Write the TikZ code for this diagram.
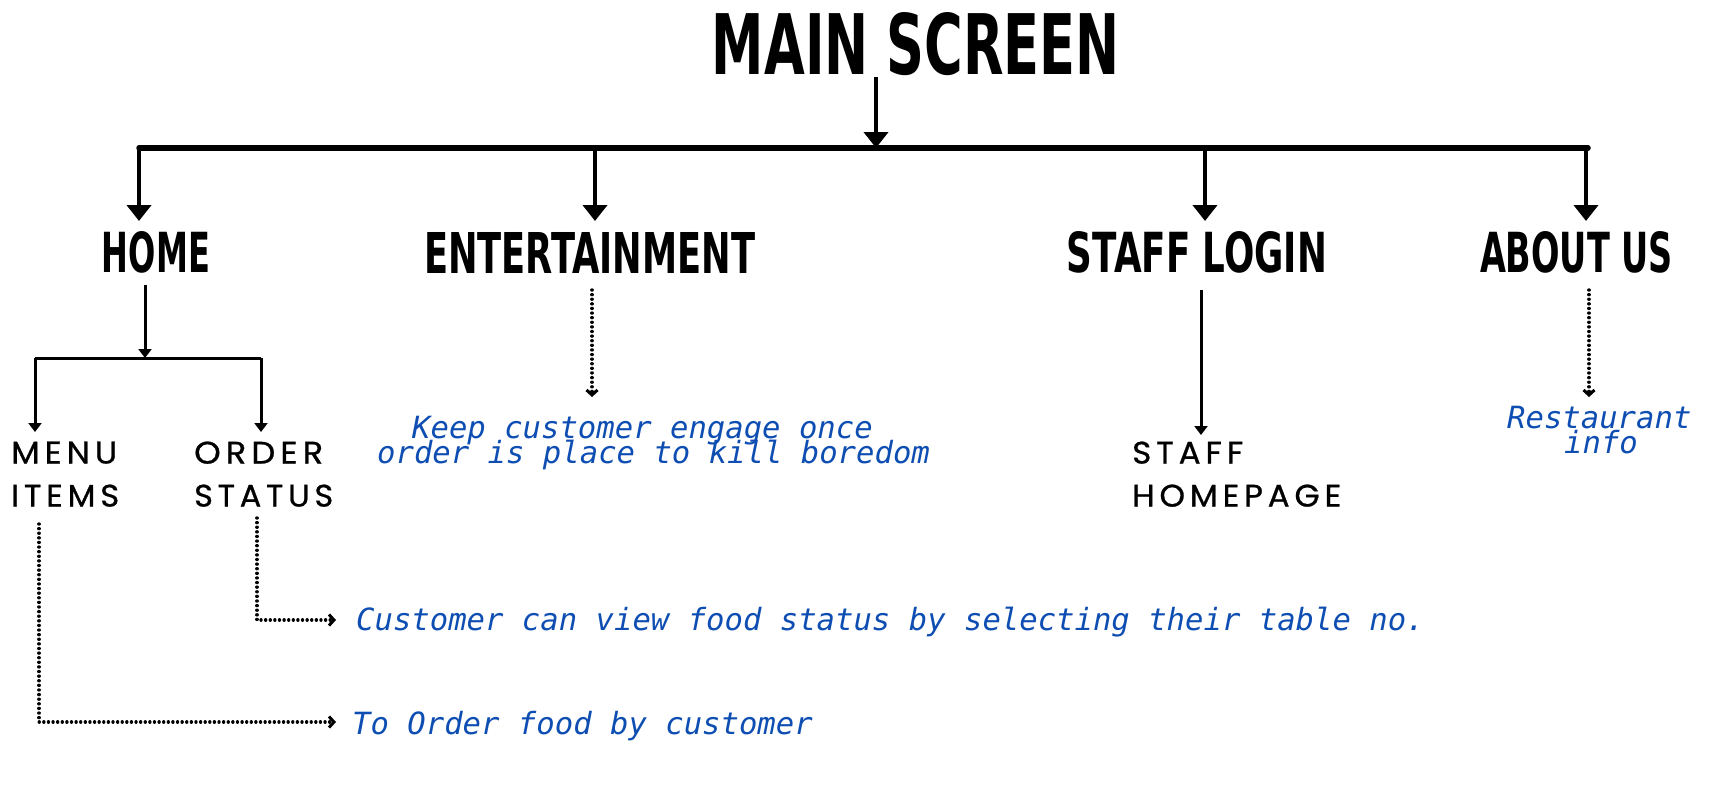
\documentclass[tikz,border=0pt]{standalone}
\usepackage{fontspec}
\usepackage{graphicx}
\usetikzlibrary{arrows.meta}
\newfontfamily\headfont{DejaVu Sans Condensed}
\newfontfamily\labfont{Poppins}[LetterSpace=15,FakeBold=0.8]
\newfontfamily\bluefont{DejaVu Sans Mono}
\definecolor{noteblue}{RGB}{14,78,178}
\newcommand{\headtxt}[3]{\resizebox{#1pt}{#2pt}{\headfont\bfseries #3}}
\newcommand{\labtxt}[3]{\resizebox{#1pt}{#2pt}{\labfont #3}}
\tikzset{
  head/.style={inner sep=0pt, anchor=center},
  lab/.style={inner sep=0pt, anchor=south west},
  note/.style={inner sep=0pt, anchor=base west, text=noteblue,
    font=\bluefont\itshape\fontsize{30.6}{30}\selectfont},
  bigarrow/.style={line width=4pt, -{Triangle[width=24pt,length=16pt]}},
  barline/.style={line width=5.5pt, line cap=round},
  smallarrow/.style={line width=3pt, -{Triangle[width=13pt,length=9pt]}},
  smallbar/.style={line width=3pt},
  dotarrow/.style={line width=3.4pt, line cap=round, dash pattern=on 0.01pt off 4.6pt,
    -{Straight Barb[length=5pt,width=11pt,line width=3pt]}}
}
\begin{document}
\begin{tikzpicture}[x=1pt,y=-1pt]
\useasboundingbox (0,0) rectangle (1734,795);

% headings
\node[head] (main) at (916,44) {\headtxt{408}{62}{MAIN SCREEN}};
\node[head] (home) at (156,252.5) {\headtxt{108}{41}{HOME}};
\node[head] (ent) at (589.5,252.5) {\headtxt{331}{41}{ENTERTAINMENT}};
\node[head] (staff) at (1197,252.5) {\headtxt{260}{41}{STAFF LOGIN}};
\node[head] (about) at (1576.5,252.5) {\headtxt{193}{41}{ABOUT US}};

% sub labels
\node[lab] (menu) at (11,464) {\labtxt{106}{22}{MENU}};
\node[lab] (items) at (11,507) {\labtxt{108}{22}{ITEMS}};
\node[lab] (order) at (194,464) {\labtxt{129}{22}{ORDER}};
\node[lab] (status) at (194,507) {\labtxt{139}{22}{STATUS}};
\node[lab] (staffa) at (1132,464) {\labtxt{111}{22}{STAFF}};
\node[lab] (homepage) at (1132,507) {\labtxt{209}{22}{HOMEPAGE}};

% notes
\node[note] (ent1) at (412,438) {Keep customer engage once};
\node[note] (ent2) at (377,463) {order is place to kill boredom};
\node[note] (rest1) at (1507,428) {Restaurant};
\node[note] (rest2) at (1564,453) {info};
\node[note] (cust) at (356,630) {Customer can view food status by selecting their table no.};
\node[note] (toorder) at (352,734) {To Order food by customer};

% coordinates
\coordinate (mainbot) at (876,77);
\coordinate (bartop) at (876,148);
\coordinate (barL) at (139,148);
\coordinate (barR) at (1588,148);
\coordinate (homeB) at (145,285);
\coordinate (homebar) at (145,358);
\coordinate (hbL) at (35,358);
\coordinate (hbR) at (261,358);

% main tree
\draw[barline] (barL) -- (barR);
\draw[bigarrow] (mainbot) -- (bartop);
\draw[bigarrow] (barL) -- (139,221);
\draw[bigarrow] (595,148) -- (595,221);
\draw[bigarrow] (1205,148) -- (1205,221);
\draw[bigarrow] (1586,148) -- (1586,221);

% home subtree
\draw[smallbar] (hbL) -- (hbR);
\draw[smallarrow] (homeB) -- (homebar);
\draw[smallarrow] (hbL) -- (35,432);
\draw[smallarrow] (hbR) -- (261,432);

% staff login
\draw[smallarrow] (1201,290) -- (1201,435);

% dotted arrows
\draw[dotarrow] (592,290) -- (592,397);
\draw[dotarrow] (1589,290) -- (1589,397);
\draw[dotarrow] (257,518) -- (257,620) -- (336,620);
\draw[dotarrow] (39,524) -- (39,722) -- (336,722);
\end{tikzpicture}
\end{document}
